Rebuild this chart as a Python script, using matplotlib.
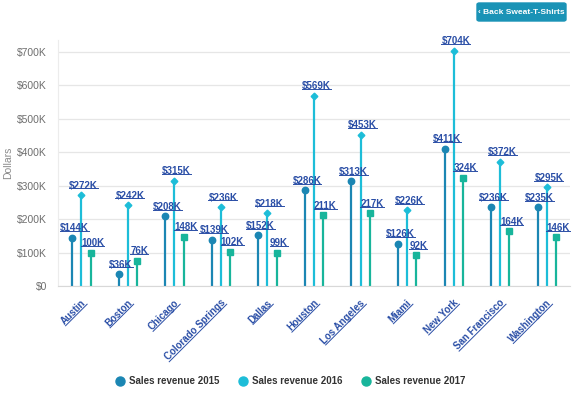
import matplotlib
matplotlib.use("Agg")
import matplotlib.pyplot as plt
from matplotlib.lines import Line2D
from matplotlib.patches import FancyBboxPatch
from matplotlib.transforms import ScaledTranslation
import numpy as np

plt.rcParams["font.family"] = ["Liberation Sans", "DejaVu Sans"]

CITIES = ["Austin", "Boston", "Chicago", "Colorado Springs", "Dallas", "Houston",
          "Los Angeles", "Miami", "New York", "San Francisco", "Washington"]
REV_2015 = [144, 36, 208, 139, 152, 286, 313, 126, 411, 236, 235]
REV_2016 = [272, 242, 315, 236, 218, 569, 453, 226, 704, 372, 295]
REV_2017 = [100, 76, 148, 102, 99, 211, 217, 92, 324, 164, 146]
SERIES = ["Sales revenue 2015", "Sales revenue 2016", "Sales revenue 2017"]
YTICKS = [0, 100, 200, 300, 400, 500, 600, 700]

COLORS = ["#1b86b3", "#1dbdd8", "#18b59b"]
MARKERS = ["o", "D", "s"]
MSIZE = [4.6, 3.4, 4.6]
OFFSETS = [-0.195, 0.0, 0.2]
LINK = "#2a4ea6"

W, H = 579, 395
fig = plt.figure(figsize=(W / 100, H / 100), dpi=100)
ax = fig.add_axes([58 / W, (H - 286) / H, 512 / W, (286 - 40) / H])

xs = np.arange(len(CITIES))
labels = []
for k, vals in enumerate([REV_2015, REV_2016, REV_2017]):
    for x, v in zip(xs + OFFSETS[k], vals):
        ax.vlines(x, 0, v * 1000, color=COLORS[k], lw=1.6, zorder=2)
        ax.plot(x, v * 1000, marker=MARKERS[k], ms=MSIZE[k], color=COLORS[k], zorder=3)
        txt = f"${v}K" if k < 2 else f"{v}K"
        labels.append(ax.annotate(txt, xy=(x, v * 1000), xytext=(1.5, 3.2), textcoords="offset points",
                                  ha="center", va="bottom", fontsize=7, fontweight="bold", color=LINK, zorder=4))

ax.set_xlim(-0.5, len(CITIES) - 0.5)
ax.set_ylim(0, 736000)
ax.set_yticks([t * 1000 for t in YTICKS], ["$0" if t == 0 else f"${t}K" for t in YTICKS])
ax.set_xticks(xs, CITIES)
ax.tick_params(axis="both", length=0)
ax.tick_params(axis="y", pad=8, labelsize=7.5, labelcolor="#6e6e6e")
ax.tick_params(axis="x", pad=12.5, labelsize=7, labelcolor=LINK)
shift = ScaledTranslation(5 / 100, 0, fig.dpi_scale_trans)
for lab in ax.get_xticklabels():
    lab.set_rotation(45)
    lab.set_rotation_mode("anchor")
    lab.set_ha("right")
    lab.set_va("baseline")
    lab.set_fontweight("bold")
    lab.set_transform(lab.get_transform() + shift)
ax.grid(axis="y", color="#e6e6e6", lw=0.9, zorder=0)
for side in ["top", "right"]:
    ax.spines[side].set_visible(False)
ax.spines["left"].set_color("#ececec")
ax.spines["bottom"].set_color("#d8d8d8")
ax.set_ylabel("Dollars", fontsize=7.5, color="#8a8a8a", labelpad=3)

handles = [Line2D([0], [0], marker="o", lw=0, color=c, markersize=6.5, label=s) for c, s in zip(COLORS, SERIES)]
fig.legend(handles=handles, loc="center", bbox_to_anchor=(0.5, 1 - 381 / H), ncol=3, frameon=False,
           prop={"size": 7, "weight": "bold"}, labelcolor="#333333", handletextpad=0.35, columnspacing=1.8,
           handlelength=1.2)

# button
fig.patches.append(FancyBboxPatch((477 / W, 1 - 21 / H), 89 / W, 18 / H, boxstyle="round,pad=0,rounding_size=0.004",
                                  transform=fig.transFigure, fc="#1a93b6", ec="#1a93b6"))
fig.text(521.5 / W, 1 - 12 / H, "\u2039 Back Sweat-T-Shirts", ha="center", va="center", fontsize=6.0,
         fontweight="bold", color="white")

# underlines for link-styled text
fig.canvas.draw()
r = fig.canvas.get_renderer()
for t in labels:
    bb = t.get_window_extent(r)
    fig.add_artist(Line2D([bb.x0, bb.x1], [bb.y0 + 2.2, bb.y0 + 2.2], transform=None, color=LINK, lw=0.7))
u = np.array([np.cos(np.pi / 4), np.sin(np.pi / 4)])
n = np.array([np.sin(np.pi / 4), -np.cos(np.pi / 4)]) * 1.2
for lab in ax.get_xticklabels():
    probe = fig.text(0, 0, lab.get_text(), fontsize=7, fontweight="bold")
    w = probe.get_window_extent(r).width
    probe.remove()
    p = lab.get_transform().transform(lab.get_position())
    a, b = p - w * u + n, p + n
    fig.add_artist(Line2D([a[0], b[0]], [a[1], b[1]], transform=None, color=LINK, lw=0.7))

fig.savefig("out.png", dpi=100)
